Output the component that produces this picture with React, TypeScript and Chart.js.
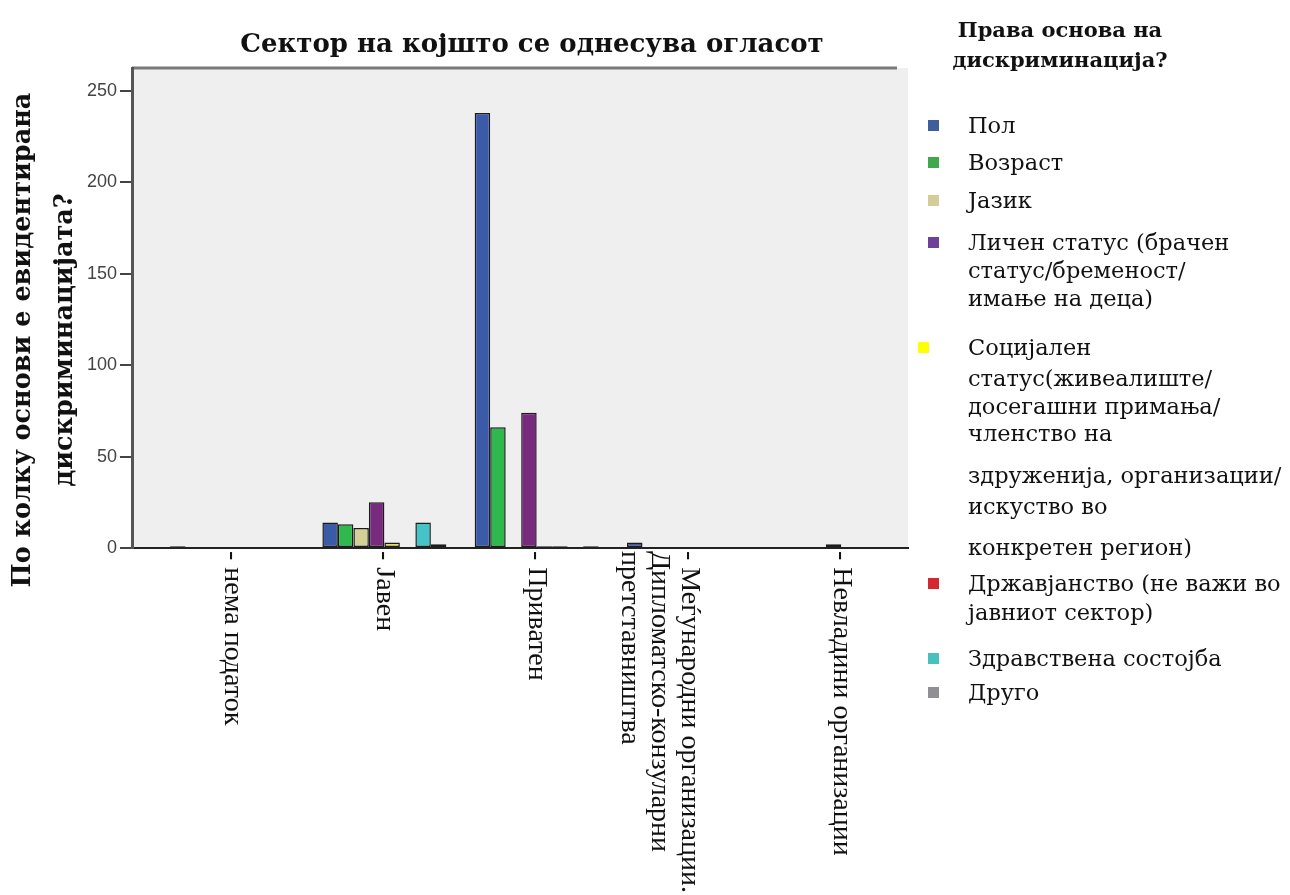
import React, { useEffect, useRef } from 'react';
import { Chart, registerables } from 'chart.js';

Chart.register(...registerables);

// ---- data ----
const categories: string[][] = [
  ['нема податок'],
  ['Јавен'],
  ['Приватен'],
  ['Меѓународни организации.', 'Дипломатско-конзуларни', 'претставништва'],
  ['Невладини организации'],
];

const seriesNames = [
  'Пол',
  'Возраст',
  'Јазик',
  'Личен статус (брачен статус/бременост/имање на деца)',
  'Социјален статус(живеалиште/досегашни примања/членство на здруженија, организации/искуство во конкретен регион)',
  'Државјанство (не важи во јавниот сектор)',
  'Здравствена состојба',
  'Друго',
];

const pol = [1, 14, 238, 3, 0];
const vozrast = [0, 13, 66, 0, 0];
const jazik = [0, 11, 0, 0, 0];
const lichenStatus = [0, 25, 74, 0, 2];
const socijalenStatus = [0, 3, 1, 0, 0];
const drzavjanstvo = [0, 0, 1, 0, 0];
const zdravstvena = [0, 14, 0, 0, 0];
const drugo = [0, 2, 1, 0, 0];

const yTickStep = 50;
const yMax = 262.6;

const chartTitle = 'Сектор на којшто се однесува огласот';
const yTitleLines = ['По колку основи е евидентирана', 'дискриминацијата?'];
const legendTitleLines = ['Права основа на', 'дискриминација?'];
const legendLines: string[][] = [
  ['Пол'],
  ['Возраст'],
  ['Јазик'],
  ['Личен статус (брачен', 'статус/бременост/', 'имање на деца)'],
  ['Социјален', 'статус(живеалиште/', 'досегашни примања/', 'членство на', 'здруженија, организации/', 'искуство во', 'конкретен регион)'],
  ['Државјанство (не важи во', 'јавниот сектор)'],
  ['Здравствена состојба'],
  ['Друго'],
];

// ---- layout / styles ----
const barColors = ['#3b5aa8', '#2fb84d', '#d5cf98', '#7a2a7e', '#e8df55', '#d22a2a', '#45c3c6', '#8e8e8e'];
const legendColors = ['#3f5f9c', '#40a84c', '#d4cd9a', '#6e4096', '#ffff00', '#d4272f', '#48c0c0', '#8f8f94'];
const legendLineY: number[][] = [
  [125],
  [162],
  [200],
  [242, 270, 298],
  [347, 378, 406, 433, 475, 506, 547],
  [583, 612],
  [658],
  [692],
];
const legendMarkerX = [928, 928, 928, 928, 918, 928, 928, 928];

const allSeries = [pol, vozrast, jazik, lichenStatus, socijalenStatus, drzavjanstvo, zdravstvena, drugo];

const plotBgPlugin = {
  id: 'plotBg',
  beforeDraw(chart: any) {
    const { ctx, chartArea } = chart;
    ctx.save();
    ctx.fillStyle = '#efefef';
    ctx.fillRect(chartArea.left, chartArea.top, chartArea.right - chartArea.left, chartArea.bottom - chartArea.top);
    ctx.strokeStyle = '#7a7a7a';
    ctx.lineWidth = 3;
    ctx.beginPath();
    ctx.moveTo(chartArea.left, chartArea.top);
    ctx.lineTo(chartArea.right - 11, chartArea.top);
    ctx.stroke();
    ctx.restore();
  },
};

const xLabelPlugin = {
  id: 'xLabels',
  afterDraw(chart: any) {
    const { ctx, chartArea } = chart;
    const xs = chart.scales.x;
    ctx.save();
    ctx.font = '28px "Liberation Serif"';
    ctx.fillStyle = '#111';
    ctx.textAlign = 'left';
    ctx.textBaseline = 'middle';
    categories.forEach((lines, i) => {
      const x = xs.getPixelForValue(i);
      lines.forEach((line, j) => {
        ctx.save();
        ctx.translate(x - j * 30, chartArea.bottom + 3);
        ctx.rotate(Math.PI / 2);
        ctx.fillText(j === 0 ? '- ' + line : line, 0, 0);
        ctx.restore();
      });
    });
    ctx.restore();
  },
};

export default function App() {
  const canvasRef = useRef<HTMLCanvasElement | null>(null);

  useEffect(() => {
    if (!canvasRef.current) return;
    const chart = new Chart(canvasRef.current, {
      type: 'bar',
      data: {
        datasets: seriesNames.map((name, k) => ({
          label: name,
          data: allSeries[k].map((v, i) => ({ x: i, y: v })),
          backgroundColor: barColors[k],
          borderColor: '#1c1c1c',
          borderWidth: 1.5,
          borderSkipped: false,
          categoryPercentage: 0.814,
          barPercentage: 1.0,
        })),
      },
      options: {
        responsive: false,
        animation: false,
        devicePixelRatio: 1,
        layout: { padding: { left: 0, top: 68, right: 382, bottom: 0 } },
        plugins: {
          legend: { display: false },
          tooltip: { enabled: false },
          title: { display: false },
        },
        scales: {
          x: {
            type: 'linear',
            min: -0.657,
            max: 4.438,
            offset: false,
            ticks: { display: false, stepSize: 1, includeBounds: false },
            grid: { display: false, offset: false },
            border: { display: true, color: '#222', width: 2 },
            afterFit: (s: any) => { s.height = 347; },
          },
          y: {
            min: 0,
            max: yMax,
            ticks: {
              stepSize: yTickStep,
              includeBounds: false,
              padding: 3,
              color: '#444',
              font: { family: '"Liberation Sans", Arial, sans-serif', size: 18 },
            },
            grid: { display: true, drawOnChartArea: false, drawTicks: true, tickLength: 12, color: '#444', lineWidth: 2 },
            border: { display: true, color: '#555', width: 3 },
            afterFit: (s: any) => { s.width = 132; },
          },
        },
      },
      plugins: [plotBgPlugin, xLabelPlugin],
    } as any);
    return () => chart.destroy();
  }, []);

  return (
    <div style={{ position: 'absolute', left: 0, top: 0, width: 1290, height: 895, background: '#fff', overflow: 'hidden' }}>
      <canvas ref={canvasRef} width={1290} height={895} style={{ position: 'absolute', left: 0, top: 0, width: 1290, height: 895 }} />
      <div style={{ position: 'absolute', left: 0, top: 23, width: 1064, textAlign: 'center', font: 'bold 26px "DejaVu Serif", serif', lineHeight: '40px', color: '#111', whiteSpace: 'nowrap' }}>
        {chartTitle}
      </div>
      <div style={{ position: 'absolute', left: 42 - 320, top: 340 - 42, width: 640, height: 84, transform: 'rotate(-90deg)', textAlign: 'center', font: 'bold 25.5px "DejaVu Serif", serif', lineHeight: '42px', color: '#111', whiteSpace: 'nowrap' }}>
        {yTitleLines.map((l, i) => <div key={i}>{l}</div>)}
      </div>
      <div style={{ position: 'absolute', left: 900, top: 15, width: 320, textAlign: 'center', font: 'bold 21px "DejaVu Serif", serif', lineHeight: '30px', color: '#111', whiteSpace: 'nowrap' }}>
        {legendTitleLines.map((l, i) => <div key={i}>{l}</div>)}
      </div>
      {legendLines.map((lines, k) => (
        <div key={k}>
          <div style={{ position: 'absolute', left: legendMarkerX[k], top: legendLineY[k][0] - 5, width: 11, height: 11, background: legendColors[k] }} />
          {lines.map((l, i) => (
            <div key={i} style={{ position: 'absolute', left: 968, top: legendLineY[k][i] - 15, height: 30, font: '22.5px "DejaVu Serif", serif', lineHeight: '30px', color: '#111', whiteSpace: 'nowrap' }}>
              {l}
            </div>
          ))}
        </div>
      ))}
    </div>
  );
}
